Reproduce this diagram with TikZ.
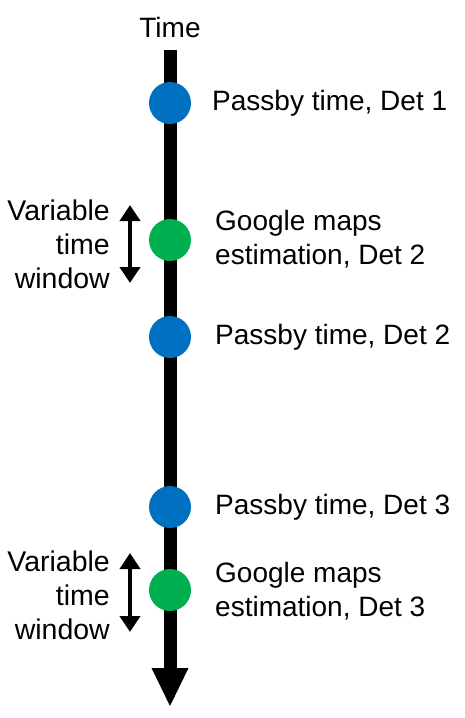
\documentclass[tikz,border=0pt]{standalone}
\usepackage{fontspec}
\setmainfont{Liberation Sans}
\usetikzlibrary{arrows.meta}
\definecolor{dotblue}{HTML}{0070C0}
\definecolor{dotgreen}{HTML}{00B050}
\begin{document}
\begin{tikzpicture}[x=1pt,y=-1pt,
  lbl/.style={font=\fontsize{28}{34}\selectfont, inner sep=0pt, align=left, anchor=west},
  lbr/.style={font=\fontsize{28.5}{34}\selectfont, inner sep=0pt, align=right, anchor=east},
  dot/.style={circle, minimum size=42pt, inner sep=0pt},
  win/.style={line width=4pt, {Triangle[width=20pt,length=16pt]}-{Triangle[width=20pt,length=16pt]}}]
\useasboundingbox (0,0) rectangle (464,718);
% timeline
\coordinate (top) at (170,50);
\coordinate (base) at (170,669);
\draw[line width=13pt] (top) -- (base);
\fill (151.5,668) -- (188.5,668) -- (170,706) -- cycle;
\node[font=\fontsize{28}{34}\selectfont, inner sep=0pt] (time) at (170,27) {Time};
% dots
\node[dot, fill=dotblue] (p1) at (170,103) {};
\node[dot, fill=dotgreen] (g2) at (170,240) {};
\node[dot, fill=dotblue] (p2) at (170,337) {};
\node[dot, fill=dotblue] (p3) at (170,507) {};
\node[dot, fill=dotgreen] (g3) at (170,590) {};
% labels right
\node[lbl] (t1) at (212,103) {Passby time, Det 1};
\node[lbl] (t2) at (215,239) {Google maps\\estimation, Det 2};
\node[lbl] (t3) at (215,337) {Passby time, Det 2};
\node[lbl] (t4) at (215,507) {Passby time, Det 3};
\node[lbl] (t5) at (215,591) {Google maps\\estimation, Det 3};
% labels left
\node[lbr] (w1) at (110,244) {Variable\\time\\window};
\node[lbr] (w2) at (110,595) {Variable\\time\\window};
% window arrows
\coordinate (a1) at (130,205);
\coordinate (b1) at (130,283);
\coordinate (a2) at (130,553);
\coordinate (b2) at (130,632);
\draw[win] (a1) -- (b1);
\draw[win] (a2) -- (b2);
\end{tikzpicture}
\end{document}
